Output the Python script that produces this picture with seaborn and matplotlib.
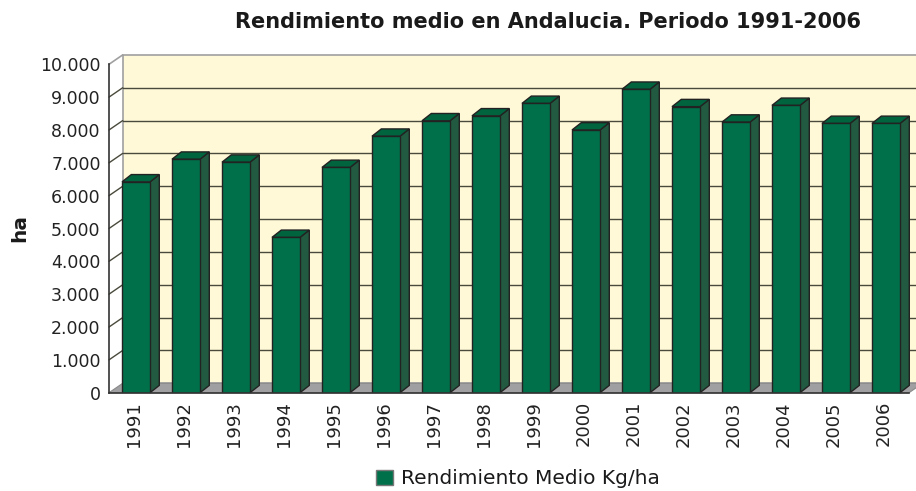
import numpy as np
import pandas as pd
import matplotlib
matplotlib.use('Agg')
import matplotlib.pyplot as plt
import seaborn as sns
from matplotlib.patches import Polygon, Patch
from matplotlib.ticker import FuncFormatter

## data
years = ['1991', '1992', '1993', '1994', '1995', '1996', '1997', '1998',
         '1999', '2000', '2001', '2002', '2003', '2004', '2005', '2006']
rendimiento = [6420, 7110, 7020, 4730, 6860, 7810, 8280, 8430,
               8810, 8000, 9240, 8710, 8240, 8750, 8200, 8200]
yticks = [0, 1000, 2000, 3000, 4000, 5000, 6000, 7000, 8000, 9000, 10000]

df = pd.DataFrame({'Año': years, 'Rendimiento Medio Kg/ha': rendimiento})

sns.set_style('white')
plt.rcParams['font.family'] = ['DejaVu Sans']

front = '#00704a'
side = '#225a41'
top = '#00643f'
wall = '#fff9d7'
floor = '#a0a0a2'
edge = '#222222'

W, H = 916, 491
fig = plt.figure(figsize=(W / 100, H / 100), dpi=100)
# front plane of the 3D box in pixel coords
x0, x1, yb, yt = 109, 909, 392.7, 64.3
ax = fig.add_axes([x0 / W, 1 - yb / H, (x1 - x0) / W, (yb - yt) / H])
ax.set_facecolor('none')

sns.barplot(data=df, x='Año', y='Rendimiento Medio Kg/ha', ax=ax, color=front,
            saturation=1, width=0.56, edgecolor=edge, linewidth=1.0, zorder=5)
ax.set_xlim(-0.5, 15.5)
ax.set_ylim(0, 10000)

# depth offsets (data units)
px_x = 16 / (x1 - x0)
px_y = 10000 / (yb - yt)
wdx, wdy = 13.7 * px_x, 9.4 * px_y   # wall
bdx, bdy = 9.3 * px_x, 7.3 * px_y    # bar depth

# back wall, floor, side wall
ax.add_patch(Polygon([(-0.5 + wdx, wdy), (16.5, wdy), (16.5, 10000 + wdy),
                      (-0.5 + wdx, 10000 + wdy)], closed=True, facecolor=wall,
                     edgecolor='#a0a0a0', lw=1.2, zorder=0, clip_on=False))
ax.add_patch(Polygon([(-0.5, 0), (15.5, 0), (15.5 + wdx, wdy), (-0.5 + wdx, wdy)],
                     closed=True, facecolor=floor, edgecolor='#8a8a8a', lw=0.8,
                     zorder=1, clip_on=False))
for v in yticks[1:-1]:
    ax.plot([-0.5 + wdx, 16.5], [v + wdy, v + wdy], color='#4a4a3c', lw=1.0,
            zorder=0.5, clip_on=False)
    ax.plot([-0.5, -0.5 + wdx], [v, v + wdy], color='#4a4a3c', lw=1.0,
            zorder=0.5, clip_on=False)
ax.plot([-0.5, -0.5 + wdx], [10000, 10000 + wdy], color='#a0a0a0', lw=1.2, clip_on=False)

# 3D faces for each bar
for p in ax.patches[:]:
    if not isinstance(p, matplotlib.patches.Rectangle):
        continue
    p.set_x(p.get_x() + 0.04)
    bx, bw, bh = p.get_x(), p.get_width(), p.get_height()
    ax.add_patch(Polygon([(bx + bw, 0), (bx + bw + bdx, bdy), (bx + bw + bdx, bh + bdy),
                          (bx + bw, bh)], closed=True, facecolor=side, edgecolor=edge,
                         lw=1.0, zorder=4, clip_on=False))
    ax.add_patch(Polygon([(bx, bh), (bx + bw, bh), (bx + bw + bdx, bh + bdy),
                          (bx + bdx, bh + bdy)], closed=True, facecolor=top, edgecolor=edge,
                         lw=1.0, zorder=4, clip_on=False))

sns.despine(ax=ax, top=True, right=True)
for s in ['left', 'bottom']:
    ax.spines[s].set_color('#333333')
    ax.spines[s].set_linewidth(1.2)
    ax.spines[s].set_zorder(6)

ax.set_yticks(yticks)
ax.yaxis.set_major_formatter(FuncFormatter(lambda v, _: f'{int(v):,}'.replace(',', '.')))
ax.set_xticks(range(len(years)))
ax.set_xticklabels(years, rotation=90)
ax.set_xticks(np.arange(-0.5, 16, 1), minor=True)
ax.tick_params(axis='x', which='major', length=0, pad=6, labelsize=13, colors='#222222')
ax.tick_params(axis='x', which='minor', length=5, width=1, color='#333333', direction='out')
ax.tick_params(axis='y', length=4, width=1, color='#333333', direction='out',
               labelsize=12.5, labelcolor='#222222', pad=2)
ax.set_xlabel('')
ax.set_ylabel('')

fig.text(20 / W, 1 - 228 / H, 'ha', rotation=90, fontsize=14.5, fontweight='bold',
         ha='center', va='center', color='#1a1a1a')
fig.text(548 / W, 1 - 22 / H, 'Rendimiento medio en Andalucia. Periodo 1991-2006',
         fontsize=15, fontweight='bold', ha='center', va='center', color='#1a1a1a')

handle = Patch(facecolor=front, edgecolor='#777777', lw=1)
fig.legend([handle], ['Rendimiento Medio Kg/ha'], loc='center',
           bbox_to_anchor=(518 / W, 1 - 479 / H), frameon=False, fontsize=14.5,
           handlelength=0.8, handleheight=0.8, handletextpad=0.4,
           labelcolor='#1a1a1a')

fig.savefig('out.png', dpi=100)
